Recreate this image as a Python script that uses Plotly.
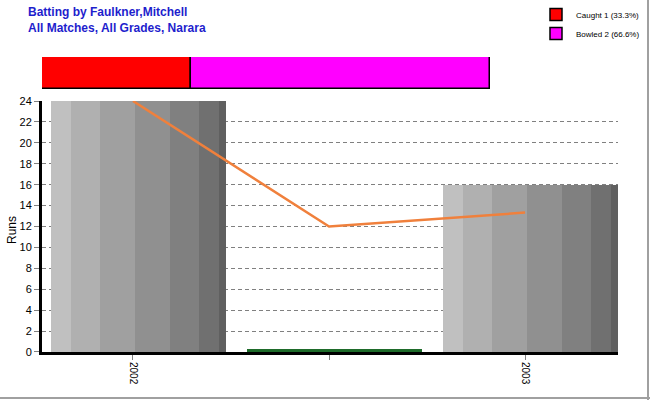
import plotly.graph_objects as go

# ---- data ----
seasons = ["2002", "", "2003"]
runs = [24, 0, 16]
zero_marker = [None, 0.25, None]
average = [24, 12, 13.33]
dismissal_names = ["Caught 1 (33.3%)", "Bowled 2 (66.6%)"]
dismissal_counts = [1, 2]
dismissal_colors = ["#FF0000", "#FF00FF"]

# ---- style ----
stripe_edges = [0, 0.114, 0.28, 0.48, 0.68, 0.846, 0.96, 1.0]
stripe_colors = ["#C0C0C0", "#B0B0B0", "#A0A0A0", "#909090", "#808080", "#707070", "#606060"]
bar_w = 0.893
bar_off = -0.42
FONT = "Liberation Sans, Arial, sans-serif"

x = list(range(len(seasons)))
fig = go.Figure()

gray_y = [r if r > 0 else None for r in runs]
for i, col in enumerate(stripe_colors):
    f0, f1 = stripe_edges[i], stripe_edges[i + 1]
    fig.add_trace(go.Bar(
        x=x, y=gray_y, width=[bar_w * (f1 - f0)] * len(x),
        offset=[bar_off + bar_w * f0] * len(x),
        marker=dict(color=col, line=dict(width=0)),
        showlegend=False, hoverinfo="skip"))

fig.add_trace(go.Bar(
    x=x, y=zero_marker, width=[bar_w] * len(x), offset=[bar_off] * len(x),
    marker=dict(color="#1E6B2A", line=dict(width=0)),
    showlegend=False, hoverinfo="skip"))

fig.add_trace(go.Scatter(
    x=x, y=average, mode="lines",
    line=dict(color="#F0803C", width=2.5), showlegend=False))

# top stacked dismissal bar
base = 0
for name, cnt, col in zip(dismissal_names, dismissal_counts, dismissal_colors):
    fig.add_trace(go.Bar(
        x=[cnt], y=[0], base=[base], orientation="h", width=1,
        name=name, marker=dict(color=col, line=dict(color="black", width=1.5)),
        xaxis="x2", yaxis="y2"))
    base += cnt

fig.update_layout(
    width=650, height=400,
    margin=dict(l=42, r=32, t=50, b=48, autoexpand=False),
    paper_bgcolor="white", plot_bgcolor="white",
    barmode="overlay", bargap=0,
    font=dict(family=FONT, size=12, color="black"),
    xaxis=dict(
        range=[-0.464, 2.474], tickvals=x, ticktext=seasons, tickangle=90,
        showgrid=False, zeroline=False, automargin=False,
        showline=True, linecolor="black", linewidth=3,
        ticks="outside", ticklen=5, tickcolor="#808080",
        tickfont=dict(size=10)),
    yaxis=dict(
        domain=[0, 0.8311], range=[0, 24], dtick=2, automargin=False,
        showgrid=True, gridcolor="#808080", griddash="4px,3px", gridwidth=1,
        zeroline=False, showline=True, linecolor="black", linewidth=3,
        ticks="outside", ticklen=5, tickcolor="#808080",
        tickfont=dict(size=11)),
    xaxis2=dict(domain=[0, 0.7778], range=[0, 3], anchor="y2",
                visible=False, fixedrange=True),
    yaxis2=dict(domain=[0.8709, 0.9768], range=[-0.5, 0.5], anchor="x2",
                visible=False, fixedrange=True),
    legend=dict(x=(536 - 42) / 576, y=(352 - 0) / 302, xanchor="left", yanchor="top",
                font=dict(size=8, color="black"), bgcolor="rgba(0,0,0,0)",
                traceorder="normal", itemwidth=30, tracegroupgap=0),
    showlegend=True,
)

fig.add_annotation(
    text="<b>Batting by Faulkner,Mitchell<br>All Matches, All Grades, Narara</b>",
    xref="paper", yref="paper", x=(26 - 42) / 576, y=(352 - 3) / 302,
    xanchor="left", yanchor="top", align="left", showarrow=False,
    font=dict(family=FONT, size=12, color="#1E1ECD"))

# y-axis title
fig.add_annotation(
    text="Runs", textangle=-90,
    xref="paper", yref="paper", x=(12 - 42) / 576, y=(352 - 230) / 302,
    xanchor="center", yanchor="middle", showarrow=False,
    font=dict(family=FONT, size=12, color="black"))

# outer frame (right and bottom edges of the image)
fig.add_shape(type="line", xref="paper", yref="paper",
              x0=(648 - 42) / 576, x1=(648 - 42) / 576,
              y0=(352 - 400) / 302, y1=(352 - 0) / 302,
              line=dict(color="#A0A0A0", width=2))
fig.add_shape(type="line", xref="paper", yref="paper",
              x0=-42 / 576, x1=(650 - 42) / 576,
              y0=(352 - 398) / 302, y1=(352 - 398) / 302,
              line=dict(color="#A0A0A0", width=2))

fig.write_html("out.html", config={"displayModeBar": False},
               post_script="document.body.style.margin='0';document.body.style.overflow='hidden';")
